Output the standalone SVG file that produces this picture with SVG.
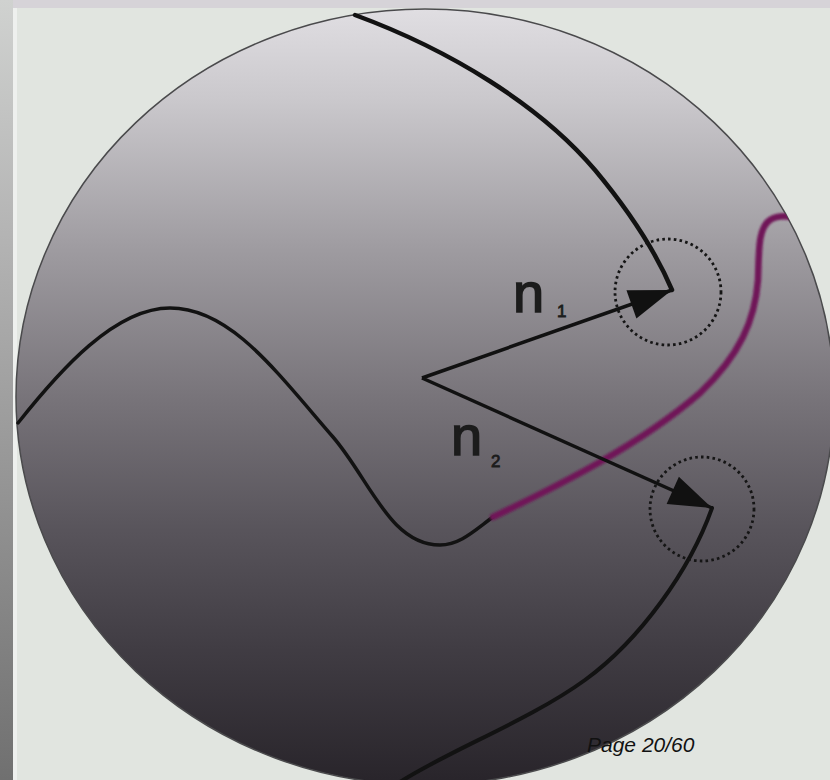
<svg xmlns="http://www.w3.org/2000/svg" width="830" height="780" viewBox="0 0 830 780">
  <defs>
    <linearGradient id="discGrad" gradientUnits="userSpaceOnUse" x1="0" y1="9" x2="0" y2="785">
      <stop offset="0" stop-color="#e0dee2"/>
      <stop offset="0.117" stop-color="#cac8cc"/>
      <stop offset="0.311" stop-color="#9e9ba0"/>
      <stop offset="0.505" stop-color="#777379"/>
      <stop offset="0.672" stop-color="#58545b"/>
      <stop offset="0.827" stop-color="#403c43"/>
      <stop offset="1" stop-color="#28242a"/>
    </linearGradient>
    <linearGradient id="stripGrad" x1="0" y1="0" x2="0" y2="1">
      <stop offset="0" stop-color="#d0d2d0"/>
      <stop offset="0.3" stop-color="#b4b4b4"/>
      <stop offset="1" stop-color="#707070"/>
    </linearGradient>
    <clipPath id="discClip">
      <ellipse cx="425" cy="397" rx="409" ry="388"/>
    </clipPath>
    <marker id="ah" viewBox="-46 -18 48 36" refX="0" refY="0" markerWidth="48" markerHeight="36" markerUnits="userSpaceOnUse" orient="auto">
      <path d="M0,0 L-43,-15 L-43,15 Z" fill="#111"/>
    </marker>
    <filter id="soft" x="-5%" y="-5%" width="110%" height="110%">
      <feGaussianBlur stdDeviation="0.8"/>
    </filter>
  </defs>
  <style>
    .curve { fill: none; stroke: #121212; stroke-linecap: round; stroke-linejoin: round; }
    .arrow { fill: none; stroke: #111; stroke-width: 3.5; }
    .target { fill: none; stroke: #151515; stroke-width: 2.8; stroke-dasharray: 2.6 3.2; }
    .lbl { font-family: "Liberation Sans", Arial, sans-serif; fill: #1c1c1c; stroke: #1c1c1c; }
  </style>

  <g id="background">
    <rect x="0" y="0" width="830" height="780" fill="#e1e5e0"/>
    <rect x="0" y="0" width="830" height="8" fill="#d6d3d8"/>
    <rect x="0" y="0" width="13" height="780" fill="url(#stripGrad)"/>
    <rect x="13" y="8" width="4" height="772" fill="#eef0ee"/>
  </g>

  <g id="disc">
    <ellipse cx="425" cy="397" rx="409" ry="388" fill="url(#discGrad)" stroke="#4a4a4c" stroke-width="1.5"/>
  </g>

  <g id="connectors">
    <path id="topCurve" class="curve" stroke-width="4.5" d="M355,15 C450,50 540,105 595,170 C630,212 655,250 672,290"/>
    <path id="bottomCurve" class="curve" stroke-width="4" d="M712,508 C690,570 640,640 585,680 C530,720 450,750 400,782"/>
    <path id="waveCurve" class="curve" stroke-width="3.5" d="M18,423 C60,370 115,308 170,308 C230,308 275,370 333,437 C370,480 390,545 440,545 C460,545 475,530 493,517"/>
    <g clip-path="url(#discClip)">
      <path id="purpleCurve" fill="none" stroke="#701858" stroke-width="6.5" stroke-linecap="round" filter="url(#soft)" d="M493,517 C560,485 640,445 700,393 C740,355 755,320 758,280 C759,250 758,228 770,220 C780,214 795,216 802,222"/>
    </g>
  </g>

  <g id="arrows">
    <line id="arrowN1" class="arrow" x1="422" y1="378" x2="672" y2="290" marker-end="url(#ah)"/>
    <line id="arrowN2" class="arrow" x1="422" y1="378" x2="712" y2="508" marker-end="url(#ah)"/>
  </g>

  <g id="target1">
    <circle class="target" cx="668" cy="292" r="53"/>
  </g>
  <g id="target2">
    <circle class="target" cx="702" cy="509" r="52"/>
  </g>

  <g id="label-n1">
    <text class="lbl" x="513" y="312" font-size="56" stroke-width="1.6">n</text>
    <text class="lbl" x="557" y="317" font-size="17" stroke-width="0.8">1</text>
  </g>
  <g id="label-n2">
    <text class="lbl" x="451" y="455" font-size="56" stroke-width="1.6">n</text>
    <text class="lbl" x="491" y="467" font-size="17" stroke-width="0.8">2</text>
  </g>

  <g id="page">
    <text x="587" y="752" font-family="Liberation Sans, Arial, sans-serif" font-style="italic" font-size="21" fill="#111">Page 20/60</text>
  </g>
</svg>
